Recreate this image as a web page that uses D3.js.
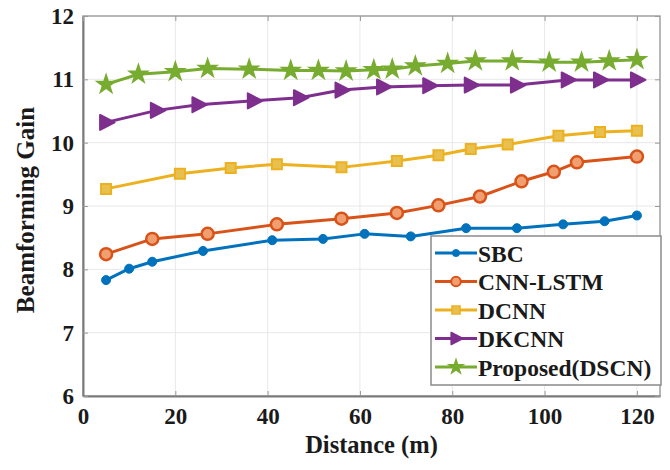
<!DOCTYPE html>
<html>
<head>
<meta charset="utf-8">
<script src="https://cdn.jsdelivr.net/npm/d3@7"></script>
<style>
  body { margin: 0; background: #fff; }
  text { font-family: "Liberation Serif", "Times New Roman", serif; font-weight: bold; fill: #1a1a1a; }
</style>
</head>
<body>
<svg id="chart"></svg>
<script>
var seriesNames = ["SBC", "CNN-LSTM", "DCNN", "DKCNN", "Proposed(DSCN)"];
var seriesColors = ["#0072BD", "#D95319", "#EDB120", "#7E2F8E", "#77AC30"];
var seriesMarkers = ["dot", "circle", "square", "triangle", "star"];

var sbcX = [5, 10, 15, 26, 41, 52, 61, 71, 83, 94, 104, 113, 120];
var sbcY = [7.83, 8.01, 8.12, 8.29, 8.46, 8.48, 8.56, 8.52, 8.65, 8.65, 8.71, 8.76, 8.85];
var cnnLstmX = [5, 15, 27, 42, 56, 68, 77, 86, 95, 102, 107, 120];
var cnnLstmY = [8.24, 8.48, 8.56, 8.71, 8.80, 8.89, 9.01, 9.15, 9.39, 9.54, 9.69, 9.78];
var dcnnX = [5, 21, 32, 42, 56, 68, 77, 84, 92, 103, 112, 120];
var dcnnY = [9.27, 9.51, 9.60, 9.66, 9.61, 9.71, 9.80, 9.90, 9.97, 10.11, 10.17, 10.19];
var dkcnnX = [5, 16, 25, 37, 47, 56, 65, 75, 84, 94, 105, 112, 120];
var dkcnnY = [10.32, 10.51, 10.60, 10.66, 10.71, 10.83, 10.88, 10.90, 10.91, 10.91, 10.99, 10.99, 10.99];
var proposedX = [5, 12, 20, 27, 36, 45, 51, 57, 63, 67, 72, 79, 85, 93, 101, 108, 114, 120];
var proposedY = [10.92, 11.08, 11.12, 11.17, 11.16, 11.14, 11.14, 11.13, 11.15, 11.16, 11.21, 11.25, 11.29, 11.29, 11.27, 11.27, 11.29, 11.31];

var xTicks = [0, 20, 40, 60, 80, 100, 120];
var yTicks = [6, 7, 8, 9, 10, 11, 12];

var allX = [sbcX, cnnLstmX, dcnnX, dkcnnX, proposedX];
var allY = [sbcY, cnnLstmY, dcnnY, dkcnnY, proposedY];

var width = 670;
var height = 470;
var margin = { top: 16, right: 10, bottom: 74, left: 83 };
var pw = width - margin.left - margin.right;
var ph = height - margin.top - margin.bottom;

var svg = d3.select("#chart").attr("width", width).attr("height", height);
var g = svg.append("g").attr("transform", "translate(" + margin.left + "," + margin.top + ")");

var xs = d3.scaleLinear().domain([0, 125]).range([0, pw]);
var ys = d3.scaleLinear().domain([6, 12]).range([ph, 0]);

// grid
g.append("g").selectAll("line").data(xTicks.slice(1)).enter().append("line")
  .attr("x1", function (d) { return xs(d); }).attr("x2", function (d) { return xs(d); })
  .attr("y1", 0).attr("y2", ph)
  .attr("stroke", "#e8e8e8").attr("stroke-width", 1);
g.append("g").selectAll("line").data(yTicks.slice(1, -1)).enter().append("line")
  .attr("y1", function (d) { return ys(d); }).attr("y2", function (d) { return ys(d); })
  .attr("x1", 0).attr("x2", pw)
  .attr("stroke", "#e8e8e8").attr("stroke-width", 1);

// box
g.append("rect").attr("x", 0).attr("y", 0).attr("width", pw).attr("height", ph)
  .attr("fill", "none").attr("stroke", "#a0a0a0").attr("stroke-width", 1.5);

// axes
var xAxis = g.append("g").attr("transform", "translate(0," + ph + ")")
  .call(d3.axisBottom(xs).tickValues(xTicks).tickFormat(d3.format("d"))
    .tickSizeInner(-5).tickSizeOuter(0).tickPadding(12));
var yAxis = g.append("g")
  .call(d3.axisLeft(ys).tickValues(yTicks).tickFormat(d3.format("d"))
    .tickSizeInner(-5).tickSizeOuter(0).tickPadding(9));
[xAxis, yAxis].forEach(function (a) {
  a.select(".domain").attr("stroke", "#7a7a7a").attr("stroke-width", 2);
  a.selectAll(".tick line").attr("stroke", "#9a9a9a");
  a.selectAll("text").style("font-family", "Liberation Serif").style("font-weight", "bold")
    .style("font-size", "23px").attr("fill", "#1a1a1a");
});
// right/top ticks like MATLAB
g.append("g").attr("transform", "translate(" + pw + ",0)")
  .call(d3.axisRight(ys).tickValues(yTicks).tickSizeInner(-5).tickSizeOuter(0).tickFormat(""))
  .call(function (s) { s.select(".domain").remove(); s.selectAll("line").attr("stroke", "#9a9a9a"); });
g.append("g")
  .call(d3.axisTop(xs).tickValues(xTicks).tickSizeInner(-5).tickSizeOuter(0).tickFormat(""))
  .call(function (s) { s.select(".domain").remove(); s.selectAll("line").attr("stroke", "#9a9a9a"); });

// axis labels
svg.append("text").attr("x", margin.left + pw / 2).attr("y", 453)
  .attr("text-anchor", "middle").style("font-size", "24.5px").text("Distance (m)");
svg.append("text").attr("transform", "translate(34," + (margin.top + ph / 2 + 4) + ") rotate(-90)")
  .attr("text-anchor", "middle").style("font-size", "25px").text("Beamforming Gain");

function drawMarker(sel, type, color) {
  if (type == "dot") {
    sel.append("circle").attr("r", 4.5).attr("fill", color).attr("stroke", color).attr("stroke-width", 1);
  } else if (type == "circle") {
    sel.append("circle").attr("r", 6).attr("fill", "#f0a070").attr("stroke", color).attr("stroke-width", 2.5);
  } else if (type == "square") {
    sel.append("path").attr("d", d3.symbol().type(d3.symbolSquare).size(100))
      .attr("fill", "#e8c050").attr("stroke", color).attr("stroke-width", 2);
  } else if (type == "triangle") {
    sel.append("path").attr("d", "M-6,-7.5 L8.5,0 L-6,7.5 Z")
      .attr("fill", color).attr("stroke", color).attr("stroke-width", 2).attr("stroke-linejoin", "round");
  } else {
    sel.append("path").attr("d", d3.symbol().type(d3.symbolStar).size(105))
      .attr("fill", color).attr("stroke", color).attr("stroke-width", 1.5);
  }
}

var line = d3.line().x(function (d) { return xs(d[0]); }).y(function (d) { return ys(d[1]); });

seriesNames.forEach(function (name, i) {
  var pts = allX[i].map(function (x, j) { return [x, allY[i][j]]; });
  g.append("path").datum(pts).attr("d", line).attr("fill", "none")
    .attr("stroke", seriesColors[i]).attr("stroke-width", 3).attr("stroke-linejoin", "round");
  var m = g.append("g").selectAll("g").data(pts).enter().append("g")
    .attr("transform", function (d) { return "translate(" + xs(d[0]) + "," + ys(d[1]) + ")"; });
  drawMarker(m, seriesMarkers[i], seriesColors[i]);
});

// legend
var lg = svg.append("g").attr("transform", "translate(431,236)");
lg.append("rect").attr("width", 230).attr("height", 149).attr("fill", "#fff")
  .attr("stroke", "#8a8a8a").attr("stroke-width", 1.5);
seriesNames.forEach(function (name, i) {
  var row = lg.append("g").attr("transform", "translate(0," + (17 + i * 28.5) + ")");
  row.append("line").attr("x1", 4).attr("x2", 46).attr("y1", 0).attr("y2", 0)
    .attr("stroke", seriesColors[i]).attr("stroke-width", 3);
  var mk = row.append("g").attr("transform", "translate(25,0) scale(0.8)");
  drawMarker(mk, seriesMarkers[i], seriesColors[i]);
  row.append("text").attr("x", 47).attr("y", 8.5).style("font-size", "23.5px").text(name);
});
</script>
</body>
</html>
